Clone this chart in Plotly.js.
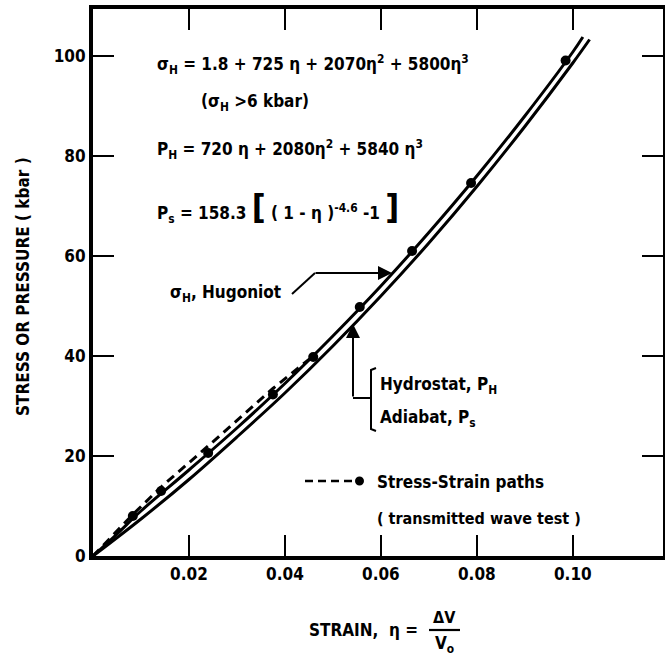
<!DOCTYPE html>
<html>
<head>
<meta charset="utf-8">
<script src="https://cdn.plot.ly/plotly-3.0.1.min.js"></script>
<style>
  html, body { margin: 0; padding: 0; background: #fff; }
  #chart { width: 665px; height: 666px; }
</style>
</head>
<body>
<div id="chart"></div>
<script>
// ---- data ----
// Hugoniot (sigma_H), upper solid curve
const hugStrain = [0, 0.005, 0.01, 0.02, 0.03, 0.04, 0.05, 0.06, 0.07, 0.08, 0.09, 0.10, 0.1021];
const hugStress = [0, 4.4, 9.0, 17.2, 25.6, 34.5, 44.0, 54.0, 64.7, 76.0, 88.0, 100.8, 103.8];
// Hydrostat / Adiabat (P_H, P_s), lower solid curve
const hydStrain = [0, 0.01, 0.02, 0.03, 0.04, 0.05, 0.06, 0.07, 0.08, 0.09, 0.10, 0.1035];
const hydPress  = [0, 7.4, 15.3, 23.8, 32.6, 42.0, 52.0, 62.6, 73.9, 85.9, 98.6, 103.3];
// Stress-strain path (dashed) from transmitted wave tests
const pathStrain = [0, 0.0083, 0.0142, 0.024, 0.0375, 0.0459];
const pathStress = [0, 8.3, 13.8, 22.0, 33.5, 40.0];
// Test end points (dots)
const testStrain = [0.0083, 0.0142, 0.024, 0.0375, 0.0459, 0.0556, 0.0665, 0.0788, 0.0985];
const testStress = [8.0, 13.0, 20.6, 32.3, 39.8, 49.8, 61.0, 74.6, 99.1];
// ticks
const xTickVals = [0.02, 0.04, 0.06, 0.08, 0.10];
const xTickText = ['0.02', '0.04', '0.06', '0.08', '0.10'];
const yTickVals = [0, 20, 40, 60, 80, 100];
const yTickText = ['0', '20', '40', '60', '80', '100'];

const FONT = '"DejaVu Sans Condensed", "Liberation Sans Narrow", "DejaVu Sans", sans-serif';
const INK = '#000';

// pixel -> paper helpers (plot area: x 93..663, y 9..556)
const L = 93, R = 2, T = 9, B = 110, W = 665, H = 666;
const pw = W - L - R, ph = H - T - B;
const px = x => (x - L) / pw;
const py = y => (H - B - y) / ph;

const traces = [
  {x: hugStrain, y: hugStress, mode: 'lines', line: {color: INK, width: 3, shape: 'spline'}, hoverinfo: 'skip'},
  {x: hydStrain, y: hydPress, mode: 'lines', line: {color: INK, width: 3, shape: 'spline'}, hoverinfo: 'skip'},
  {x: pathStrain, y: pathStress, mode: 'lines', line: {color: INK, width: 3, dash: '9px,6px'}, hoverinfo: 'skip'},
  {x: testStrain, y: testStress, mode: 'markers', marker: {color: INK, size: 10}, hoverinfo: 'skip'}
];

const ann = (x, y, text, size, extra) => Object.assign({
  xref: 'paper', yref: 'paper', x: px(x), y: py(y), text: text, showarrow: false,
  xanchor: 'left', yanchor: 'middle', font: {family: FONT, size: size, color: INK, weight: 'bold'}
}, extra || {});

const annotations = [
  ann(155, 64, 'σ<sub>H</sub> = 1.8 + 725 η + 2070η<sup>2</sup> + 5800η<sup>3</sup>', 17),
  ann(199, 102, '(σ<sub>H</sub> >6 kbar)', 17),
  ann(155, 150, 'P<sub>H</sub> = 720 η + 2080η<sup>2</sup> + 5840 η<sup>3</sup>', 17),
  ann(155, 207, 'P<sub>s</sub> = 158.3 <span style="font-size:34px">[</span> ( 1 - η )<sup>-4.6</sup> -1 <span style="font-size:34px">]</span>', 17),
  ann(168, 293, 'σ<sub>H</sub>, Hugoniot', 17),
  ann(378, 385, 'Hydrostat, P<sub>H</sub>', 17),
  ann(378, 418, 'Adiabat, P<sub>s</sub>', 17),
  ann(375, 482, 'Stress-Strain paths', 17),
  ann(375, 518, '( transmitted wave test )', 16),
  // arrow to Hugoniot
  {xref: 'paper', yref: 'paper', x: px(392), y: py(273), ax: -78, ay: 0, text: '', showarrow: true,
   arrowhead: 2, arrowsize: 1.4, arrowwidth: 2, arrowcolor: INK},
  // arrow up to hydrostat
  {xref: 'paper', yref: 'paper', x: px(353), y: py(324), ax: 0, ay: 74, text: '', showarrow: true,
   arrowhead: 2, arrowsize: 1.4, arrowwidth: 2, arrowcolor: INK},
  // axis titles
  {xref: 'paper', yref: 'paper', x: px(23), y: py(287), text: 'STRESS OR PRESSURE ( kbar )', textangle: -90,
   showarrow: false, xanchor: 'center', yanchor: 'middle', font: {family: FONT, size: 17, color: INK, weight: 'bold'}},
  {xref: 'paper', yref: 'paper', x: px(420), y: py(630), text: 'STRAIN,  η =', showarrow: false,
   xanchor: 'right', yanchor: 'middle', font: {family: FONT, size: 17, color: INK, weight: 'bold'}},
  {xref: 'paper', yref: 'paper', x: px(444), y: py(617), text: 'ΔV', showarrow: false,
   xanchor: 'center', yanchor: 'middle', font: {family: FONT, size: 16, color: INK, weight: 'bold'}},
  {xref: 'paper', yref: 'paper', x: px(444), y: py(644), text: 'V<sub>o</sub>', showarrow: false,
   xanchor: 'center', yanchor: 'middle', font: {family: FONT, size: 17, color: INK, weight: 'bold'}}
];

const shapes = [
  // legend dashes
  {type: 'line', xref: 'paper', yref: 'paper', x0: px(305), x1: px(358), y0: py(481), y1: py(481),
   line: {color: INK, width: 2.6, dash: '8px,5px'}},
  {type: 'circle', xref: 'paper', yref: 'paper', x0: px(355), x1: px(364), y0: py(476.5), y1: py(485.5),
   fillcolor: INK, line: {color: INK, width: 0}},
  // Hugoniot pointer bent line
  {type: 'path', xref: 'paper', yref: 'paper',
   path: `M ${px(292)} ${py(294)} L ${px(315)} ${py(273)}`, line: {color: INK, width: 2}},
  // hydrostat pointer horizontal + bracket
  {type: 'path', xref: 'paper', yref: 'paper',
   path: `M ${px(353)} ${py(398)} L ${px(371)} ${py(398)}`, line: {color: INK, width: 2}},
  {type: 'path', xref: 'paper', yref: 'paper',
   path: `M ${px(376)} ${py(368)} L ${px(371)} ${py(370)} L ${px(371)} ${py(429)} L ${px(376)} ${py(431)}`,
   line: {color: INK, width: 2}},
  // fraction bar
  {type: 'line', xref: 'paper', yref: 'paper', x0: px(429), x1: px(460), y0: py(630), y1: py(630),
   line: {color: INK, width: 2.2}}
];

const axisCommon = {
  showline: true, linewidth: 4, linecolor: INK, mirror: 'ticks',
  ticks: 'inside', ticklen: 21, tickwidth: 2.5, tickcolor: INK,
  showgrid: false, zeroline: false, fixedrange: true,
  tickfont: {family: FONT, size: 17, color: INK, weight: 'bold'}
};

const layout = {
  width: W, height: H,
  margin: {l: L, r: R, t: T, b: B},
  paper_bgcolor: '#fff', plot_bgcolor: '#fff',
  showlegend: false,
  xaxis: Object.assign({}, axisCommon, {range: [0, 0.1188], tickvals: xTickVals, ticktext: xTickText}),
  yaxis: Object.assign({}, axisCommon, {range: [0, 109.4], tickvals: yTickVals, ticktext: yTickText}),
  annotations: annotations,
  shapes: shapes
};

Plotly.newPlot('chart', traces, layout, {staticPlot: true, displayModeBar: false});
</script>
</body>
</html>
